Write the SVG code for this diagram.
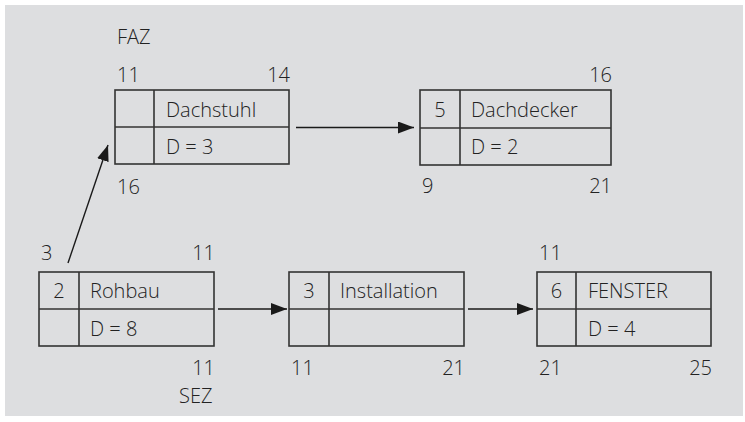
<svg xmlns="http://www.w3.org/2000/svg" width="745" height="422" viewBox="0 0 745 422">
<style>
text{font-family:"Open Sans","Noto Sans","Liberation Sans",sans-serif;font-size:20px;font-weight:300;fill:#222}
.box{fill:none;stroke:#333;stroke-width:1.6}
.r{text-anchor:end}
.c{text-anchor:middle}
.edge{stroke:#1a1a1a;stroke-width:1.4;fill:none}
</style>
<defs>
<marker id="ah" markerWidth="16" markerHeight="12" refX="16" refY="6" orient="auto" markerUnits="userSpaceOnUse">
<path d="M0,0 L16,6 L0,12 z" fill="#1a1a1a"/>
</marker>
</defs>
<rect x="0" y="0" width="745" height="422" fill="#ffffff"/>
<rect x="5" y="5" width="738" height="411" fill="#dddee0"/>
<text x="117" y="44">FAZ</text>
<text x="179" y="403">SEZ</text>
<g id="connectors">
<line class="edge" x1="68" y1="263" x2="108" y2="145" marker-end="url(#ah)"/>
<line class="edge" x1="296" y1="127.5" x2="414" y2="127.5" marker-end="url(#ah)"/>
<line class="edge" x1="218" y1="309" x2="287" y2="309" marker-end="url(#ah)"/>
<line class="edge" x1="468" y1="309" x2="533" y2="309" marker-end="url(#ah)"/>
</g>
<g id="dachstuhl">
<rect class="box" x="115" y="90" width="174" height="74"/>
<line class="box" x1="115" y1="127" x2="289" y2="127"/>
<line class="box" x1="154" y1="90" x2="154" y2="164"/>
<text x="166" y="117">Dachstuhl</text>
<text x="166" y="154">D = 3</text>
<text x="117" y="82">11</text>
<text class="r" x="290" y="82">14</text>
<text x="117" y="194">16</text>
</g>
<g id="dachdecker">
<rect class="box" x="420" y="90" width="191" height="75"/>
<line class="box" x1="420" y1="128" x2="611" y2="128"/>
<line class="box" x1="460" y1="90" x2="460" y2="165"/>
<text class="c" x="440" y="117">5</text>
<text x="471" y="117">Dachdecker</text>
<text x="471" y="154">D = 2</text>
<text class="r" x="612" y="82">16</text>
<text x="422" y="193">9</text>
<text class="r" x="612" y="193">21</text>
</g>
<g id="rohbau">
<rect class="box" x="39" y="272" width="175" height="74"/>
<line class="box" x1="39" y1="309" x2="214" y2="309"/>
<line class="box" x1="79" y1="272" x2="79" y2="346"/>
<text class="c" x="59" y="298">2</text>
<text x="90" y="298">Rohbau</text>
<text x="90" y="336">D = 8</text>
<text x="41" y="260">3</text>
<text class="r" x="215" y="260">11</text>
<text class="r" x="215" y="375">11</text>
</g>
<g id="installation">
<rect class="box" x="289" y="272" width="175" height="74"/>
<line class="box" x1="289" y1="309" x2="464" y2="309"/>
<line class="box" x1="329" y1="272" x2="329" y2="346"/>
<text class="c" x="309" y="298">3</text>
<text x="340" y="298">Installation</text>
<text x="291" y="375">11</text>
<text class="r" x="465" y="375">21</text>
</g>
<g id="fenster">
<rect class="box" x="537" y="272" width="174" height="74"/>
<line class="box" x1="537" y1="309" x2="711" y2="309"/>
<line class="box" x1="576" y1="272" x2="576" y2="346"/>
<text class="c" x="556.5" y="298">6</text>
<text x="588" y="298">FENSTER</text>
<text x="588" y="336">D = 4</text>
<text x="539" y="260">11</text>
<text x="539" y="375">21</text>
<text class="r" x="712" y="375">25</text>
</g>
</svg>
